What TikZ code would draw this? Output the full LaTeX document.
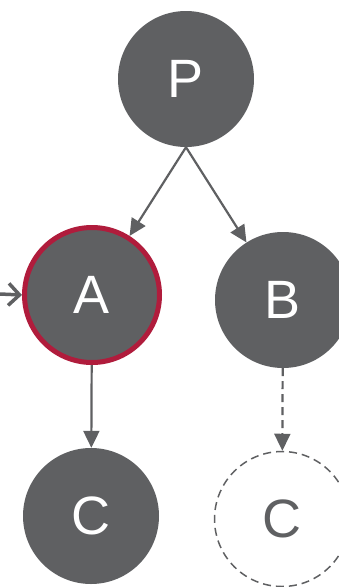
\documentclass[tikz,border=0pt]{standalone}
\usepackage{fontspec}
\setmainfont{Liberation Sans}
\usetikzlibrary{arrows.meta}

\definecolor{nodegray}{HTML}{5F6062}
\definecolor{ringred}{HTML}{B01C3C}

\begin{document}
\begin{tikzpicture}[
    x = 1pt, y = -1pt,
    line join=round,
    vertex/.style = {circle, fill=nodegray, inner sep=0pt, minimum size=136pt, text=white, font=\fontsize{54}{54}\selectfont},
    current/.style = {vertex, draw=ringred, line width=5pt, minimum size=135pt},
    ghost/.style = {circle, draw=nodegray, line width=1.5pt, dash pattern=on 8pt off 5pt, inner sep=0pt, minimum size=135pt, text=nodegray, font=\fontsize{54}{54}\selectfont},
    edge/.style = {line width=2.2pt, nodegray, -{Triangle[length=17pt, width=16pt]}}
]

\useasboundingbox (0, 0) rectangle (338, 587);

\node[vertex]  (P)  at (186, 79)  {P};
\node[current] (A)  at (92, 295)  {A};
\node[vertex]  (B)  at (283, 300) {B};
\node[vertex]  (C1) at (91, 516)  {C};
\node[ghost]   (C2) at (282, 519) {C};

\coordinate (in) at (0, 294);

\draw[edge] (P.south) -- (A);
\draw[edge] (P.south) -- (B);
\draw[edge] (A) -- (C1);
\draw[edge, dash pattern=on 8pt off 5pt] (B) -- (C2);

\draw[line width=3.5pt, nodegray, -{Straight Barb[length=11pt, width=22pt]}] (in) -- (A.west);

\end{tikzpicture}
\end{document}
